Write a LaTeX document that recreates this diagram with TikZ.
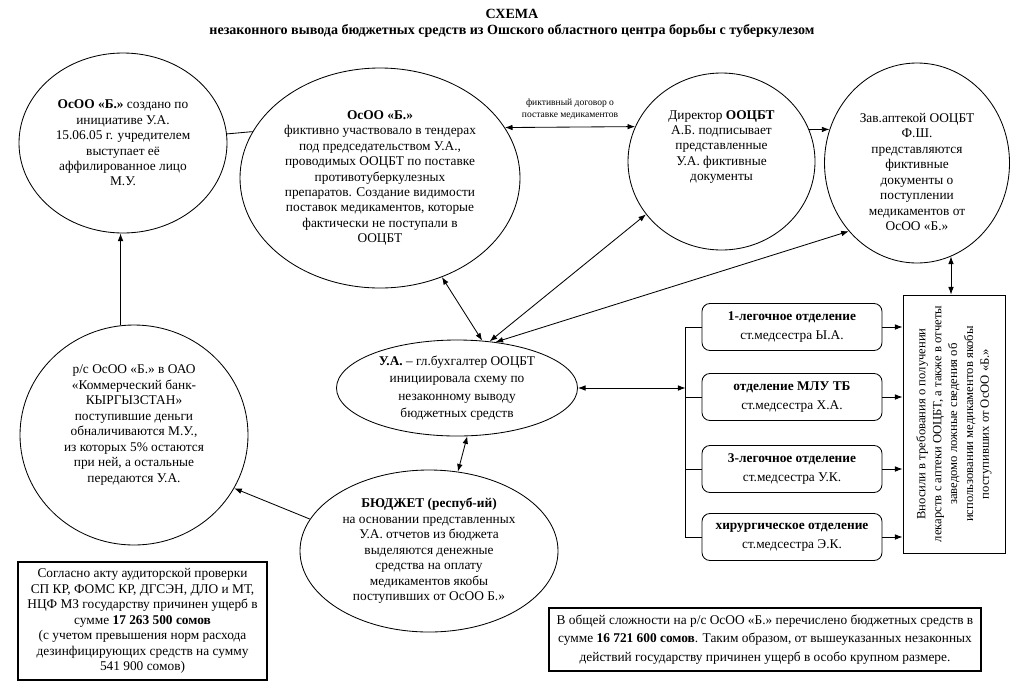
\documentclass[tikz,border=0pt]{standalone}
\usepackage{fontspec}
\setmainfont{Liberation Serif}
\usetikzlibrary{arrows.meta,shapes.geometric,positioning}

\begin{document}
\begin{tikzpicture}[x=0.25mm, y=-0.25mm,
    font=\fontsize{9.5}{11}\selectfont,
    oval/.style={ellipse, draw, line width=0.6pt, inner sep=0pt, align=center},
    txt/.style={align=center, inner sep=0pt},
    dept/.style={rectangle, draw, rounded corners=2mm, line width=0.6pt, minimum width=45mm, minimum height=11.75mm, align=center, inner sep=1pt, font=\fontsize{9.5}{13.5}\selectfont},
    note/.style={rectangle, draw, line width=2pt, align=center, inner sep=1pt},
    lbl/.style={align=center, inner sep=0pt, font=\fontsize{6.8}{8.5}\selectfont},
    link/.style={line width=0.6pt},
    arr/.style={link, -{Latex[length=1.9mm,width=1.4mm]}},
    darr/.style={link, {Latex[length=1.9mm,width=1.4mm]}-{Latex[length=1.9mm,width=1.4mm]}}
]

\useasboundingbox (0,0) rectangle (1024,696);

% Title
\node[font=\bfseries\fontsize{10}{12}\selectfont] (title) at (512,14) {СХЕМА};
\node[font=\bfseries\fontsize{10}{12}\selectfont] (subtitle) at (512,31) {незаконного вывода бюджетных средств из Ошского областного центра борьбы с туберкулезом};

% Top row
\node[oval, minimum width=52mm, minimum height=45mm] (tl) at (123,143) {\textbf{ОсОО «Б.»} создано по\\инициативе У.А.\\15.06.05 г. учредителем\\выступает её\\аффилированное лицо\\М.У.};
\node[oval, minimum width=70mm, minimum height=55mm] (om) at (380,178) {\textbf{ОсОО «Б.»}\\фиктивно участвовало в тендерах\\под председательством У.А.,\\проводимых ООЦБТ по поставке\\противотуберкулезных\\препаратов. Создание видимости\\поставок медикаментов, которые\\фактически не поступали в\\ООЦБТ};
\node[oval, minimum width=46.75mm, minimum height=44.25mm] (dir) at (721.5,161.5) {};
\node[txt] (dirtxt) at (721.5,147) {Директор \textbf{ООЦБТ}\\А.Б. подписывает\\представленные\\У.А. фиктивные\\документы};
\node[oval, minimum width=46.25mm, minimum height=50mm] (zav) at (917,163) {};
\node[txt] (zavtxt) at (917,172) {Зав.аптекой ООЦБТ\\Ф.Ш.\\представляются\\фиктивные\\документы о\\поступлении\\медикаментов от\\ОсОО «Б.»};

% Middle row
\node[oval, minimum width=57mm, minimum height=55mm] (lm) at (134,435) {};
\node[txt] (lmtxt) at (134,425) {р/с ОсОО «Б.» в ОАО\\«Коммерческий банк-\\КЫРГЫЗСТАН»\\поступившие деньги\\обналичиваются М.У.,\\из которых 5\% остаются\\при ней, а остальные\\передаются У.А.};
\node[oval, minimum width=60.25mm, minimum height=24mm, font=\fontsize{9.5}{12.3}\selectfont] (ua) at (457,388) {\textbf{У.А.} – гл.бухгалтер ООЦБТ\\инициировала схему по\\незаконному выводу\\бюджетных средств};
\node[oval, minimum width=64.5mm, minimum height=40.5mm] (bud) at (429,551) {\textbf{БЮДЖЕТ (респуб-ий)}\\на основании представленных\\У.А. отчетов из бюджета\\выделяются денежные\\средства на оплату\\медикаментов якобы\\поступивших от ОсОО Б.»};

% Departments
\node[dept] (d1) at (792,327) {\textbf{1-легочное отделение}\\ст.медсестра Ы.А.};
\node[dept] (d2) at (792,397) {\textbf{отделение МЛУ ТБ}\\ст.медсестра Х.А.};
\node[dept] (d3) at (792,469) {\textbf{3-легочное отделение}\\ст.медсестра У.К.};
\node[dept] (d4) at (792,537) {\textbf{хирургическое отделение}\\ст.медсестра Э.К.};

% Reports box
\node[rectangle, draw, line width=0.6pt, minimum width=25.5mm, minimum height=64.5mm] (vbox) at (954,424) {};
\node[txt, rotate=90, font=\fontsize{9}{11.3}\selectfont] (vtxt) at (vbox.center) {Вносили в требования о получении\\лекарств с аптеки ООЦБТ, а также в отчеты\\заведомо ложные сведения об\\использовании медикаментов якобы\\поступивших от ОсОО «Б.»};

% Summary boxes
\node[note, minimum width=62.25mm, minimum height=29.5mm] (bl) at (142.5,621) {Согласно акту аудиторской проверки\\СП КР, ФОМС КР, ДГСЭН, ДЛО и МТ,\\НЦФ МЗ государству причинен ущерб в\\сумме \textbf{17 263 500 сомов}\\(с учетом превышения норм расхода\\дезинфицирующих средств на сумму\\541 900 сомов)};
\node[note, minimum width=108mm, minimum height=15.75mm, font=\fontsize{9.5}{13}\selectfont] (br) at (765,639.5) {В общей сложности на р/с ОсОО «Б.» перечислено бюджетных средств в\\сумме \textbf{16 721 600 сомов}. Таким образом, от вышеуказанных незаконных\\действий государству причинен ущерб в особо крупном размере.};

% Connectors
\draw[link] (tl.5.5) -- (om.160.6);
\draw[darr] (om.22.4) -- node[lbl, above=5pt] (contract) {фиктивный договор о\\поставке медикаментов} (dir.158.2);
\draw[arr] (dir.20) -- (zav.159.3);
\draw[darr] (om.-58) -- (ua.62);
\draw[darr] (dir.-145) -- (ua.55);
\draw[darr] (zav.-135) -- (ua.50);
\draw[darr] (ua.-78) -- (bud.70);
\draw[arr] (bud.165) -- (lm.-28);
\draw[arr] (lm.97) -- (lm.97 |- tl.south);
\draw[darr] (zav.-70.5) -- (zav.-70.5 |- vbox.north);

% Bracket to departments
\draw[link] (d1.west) -- ++(-16,0) coordinate (brk) |- (d4.west);
\draw[link] (d2.west) -- (d2.west -| brk);
\draw[link] (d3.west) -- (d3.west -| brk);
\draw[darr] (ua.east) -- (ua.east -| brk);
\foreach \d in {d1,d2,d3,d4}
    \draw[arr] (\d.east) -- (\d.east -| vbox.west);

\end{tikzpicture}
\end{document}
